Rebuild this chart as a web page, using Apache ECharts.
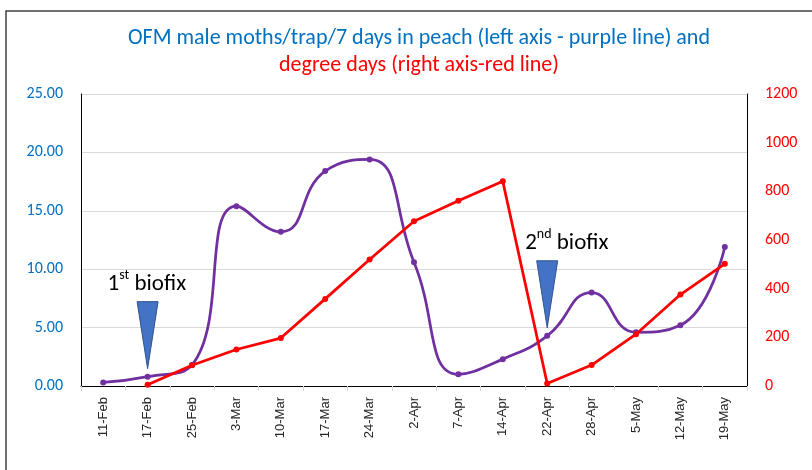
<!DOCTYPE html>
<html>
<head>
<meta charset="utf-8">
<script src="https://cdn.jsdelivr.net/npm/echarts@6/dist/echarts.min.js"></script>
<style>
  html, body { margin: 0; padding: 0; background: #fff; }
</style>
</head>
<body>
<div id="chart" style="width: 812px; height: 470px"></div>
<script>
// dates of the weekly trap checks
const categories = ['11-Feb', '17-Feb', '25-Feb', '3-Mar', '10-Mar', '17-Mar', '24-Mar', '2-Apr',
  '7-Apr', '14-Apr', '22-Apr', '28-Apr', '5-May', '12-May', '19-May']
// OFM male moths / trap / 7 days (left axis)
const moths = [0.3, 0.8, 1.8, 15.4, 13.2, 18.4, 19.4, 10.6, 1.0, 2.3, 4.3, 8.0, 4.6, 5.2, 11.9]
// degree days (right axis), nothing before 1st biofix
const degreeDays = [null, 5, 85, 150, 197, 358, 520, 677, 761, 841, 10, 86, 213, 376, 502]
// biofix markers
const biofixDates = ['17-Feb', '22-Apr']
const biofixNum = ['1', '2']
const biofixSup = ['st', 'nd']

const font = 'Carlito, Lato, sans-serif'
const chart = echarts.init(document.getElementById('chart'))

const option = {
  animation: false,
  title: [
    {
      text: 'OFM male moths/trap/7 days in peach (left axis - purple line) and',
      left: 414,
      textAlign: 'center',
      top: 22,
      textStyle: { color: '#0070C0', fontSize: 22, fontWeight: 'normal', fontFamily: font }
    },
    {
      text: 'degree days (right axis-red line)',
      left: 414,
      textAlign: 'center',
      top: 49,
      textStyle: { color: '#FF0000', fontSize: 22, fontWeight: 'normal', fontFamily: font }
    }
  ],
  grid: { left: 81, right: 65, top: 94, bottom: 84, outerBoundsMode: 'none' },
  xAxis: [
    {
      type: 'category',
      data: categories,
      axisLine: { lineStyle: { color: '#d9d9d9' } },
      axisTick: { show: true, length: 5, lineStyle: { color: '#d9d9d9' } },
      axisLabel: { rotate: 90, color: '#262626', fontSize: 13, fontFamily: 'Liberation Sans, Arial', margin: 11, interval: 0 }
    },
    {
      type: 'category',
      data: categories,
      position: 'top',
      axisLine: { lineStyle: { color: '#000', width: 1 } },
      axisTick: { show: false },
      axisLabel: { show: false }
    }
  ],
  yAxis: [
    {
      type: 'value',
      min: 0,
      max: 25,
      interval: 5,
      axisLine: { show: true, lineStyle: { color: '#000' } },
      axisTick: { show: false },
      splitLine: { lineStyle: { color: '#d9d9d9' } },
      axisLabel: {
        color: '#0070C0', fontSize: 16, fontFamily: font, margin: 18,
        formatter: v => v.toFixed(2)
      }
    },
    {
      type: 'value',
      min: 0,
      max: 1200,
      interval: 200,
      position: 'right',
      axisLine: { show: true, lineStyle: { color: '#000' } },
      axisTick: { show: false },
      splitLine: { show: false },
      axisLabel: { color: '#FF0000', fontSize: 16, fontFamily: font, margin: 18, formatter: v => String(v) }
    }
  ],
  series: [
    {
      name: 'moths',
      type: 'line',
      data: moths,
      yAxisIndex: 0,
      smooth: 0.5,
      symbol: 'circle',
      symbolSize: 6,
      lineStyle: { color: '#7030A0', width: 2.75 },
      itemStyle: { color: '#7030A0' },
      z: 3
    },
    {
      name: 'degree days',
      type: 'line',
      data: degreeDays,
      yAxisIndex: 1,
      symbol: 'circle',
      symbolSize: 6,
      lineStyle: { color: '#FF0000', width: 2.75 },
      itemStyle: { color: '#FF0000' },
      z: 4
    }
  ]
}

chart.setOption(option)

// outer frame + biofix arrows, placed from the data points
const graphics = [
  {
    type: 'rect',
    shape: { x: 6, y: 11, width: 830, height: 480 },
    style: { fill: 'none', stroke: '#404040', lineWidth: 1.5 },
    silent: true
  }
]
const textShift = [-40, -22]
biofixDates.forEach((d, i) => {
  const idx = categories.indexOf(d)
  const p = chart.convertToPixel({ xAxisIndex: 0, yAxisIndex: 0 }, [d, moths[idx]])
  const ax = p[0]
  const ay = p[1] - 8
  graphics.push({
    type: 'polygon',
    shape: { points: [[ax - 10.5, ay - 67], [ax + 10.5, ay - 67], [ax, ay]] },
    style: { fill: '#4472C4', stroke: '#2F528F', lineWidth: 1 },
    z: 10
  })
  graphics.push({
    type: 'text',
    x: ax + textShift[i],
    y: ay - 100,
    style: {
      text: '{n|' + biofixNum[i] + '}{s|' + biofixSup[i] + '}{n| biofix}',
      rich: {
        n: { fontSize: 23, fontFamily: font, color: '#000', lineHeight: 27, verticalAlign: 'bottom' },
        s: { fontSize: 14, fontFamily: font, color: '#000', lineHeight: 27, verticalAlign: 'top' }
      }
    },
    z: 10
  })
})
chart.setOption({ graphic: graphics })
</script>
</body>
</html>
